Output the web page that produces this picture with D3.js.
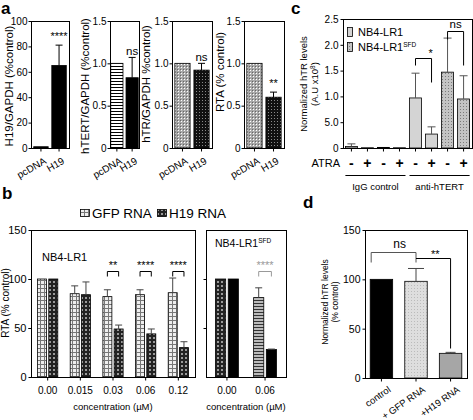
<!DOCTYPE html>
<html><head><meta charset="utf-8">
<script src="https://cdn.jsdelivr.net/npm/d3@7"></script>
<style>body{margin:0;background:#fff}svg text{font-family:"Liberation Sans",Arial,sans-serif;fill:#000}</style>
</head><body><svg id="chart" width="473" height="420"></svg>
<script>
// ===== DATA =====
const aCategories = ["pcDNA", "H19"];
const aH19Values = [1, 65];
const aH19Errors = [0, 16];
const aH19Ticks = [0, 20, 40, 60, 80, 100];
const aTertValues = [1.0, 0.83];
const aTertErrors = [0, 0.24];
const aHtrValues = [1.0, 0.92];
const aHtrErrors = [0, 0.08];
const aRtaValues = [1.0, 0.60];
const aRtaErrors = [0, 0.06];
const aRatioTicks = [0, 0.5, 1.0, 1.5];
const aRatioTickLabels = ["0", "0.5", "1.0", "1.5"];

const cAtra = ["-", "+", "-", "+", "-", "+", "-", "+"];
const cCells = ["NB4-LR1", "NB4-LR1", "NB4-LR1SFD", "NB4-LR1SFD", "NB4-LR1", "NB4-LR1", "NB4-LR1SFD", "NB4-LR1SFD"];
const cGroups = ["IgG control", "anti-hTERT"];
const cValues = [0.03, 0.005, 0.012, 0.005, 0.97, 0.27, 1.47, 0.95];
const cErrors = [0.05, 0, 0, 0, 0.48, 0.14, 0.66, 0.45];
const cTicks = [0, 0.5, 1.0, 1.5, 2.0, 2.5];
const cTickLabels = ["0", "5.0", "1.0", "1.5", "2.0", "2.5"];

const bSeries = ["GFP RNA", "H19 RNA"];
const bConc = ["0.00", "0.015", "0.03", "0.06", "0.12"];
const bGfpValues = [100, 85, 82, 84, 86];
const bGfpErrors = [0, 8, 7, 5, 15];
const bH19Values = [100, 84, 49, 44, 30];
const bH19Errors = [0, 13, 4, 5, 6];
const bSig = ["", "", "**", "****", "****"];
const bSfdConc = ["0.00", "0.06"];
const bSfdGfpValues = [100, 81];
const bSfdGfpErrors = [0, 10];
const bSfdH19Values = [100, 28];
const bSfdH19Errors = [0, 0.5];
const bSfdSig = ["", "****"];
const bTicks = [0, 50, 100, 150];

const dCategories = ["control", "+ GFP RNA", "+H19 RNA"];
const dValues = [100, 98, 25];
const dErrors = [0, 13, 1];
const dTicks = [0, 50, 100, 150];

// ===== HELPERS =====
const svg = d3.select("#chart");
const defs = svg.append("defs");
function pat(id, w, h, bg, rects) {
  const p = defs.append("pattern").attr("id", id).attr("patternUnits", "userSpaceOnUse").attr("width", w).attr("height", h);
  p.append("rect").attr("width", w).attr("height", h).attr("fill", bg);
  rects.forEach(r => p.append("rect").attr("x", r[0]).attr("y", r[1]).attr("width", r[2]).attr("height", r[3]).attr("fill", r[4]));
}
pat("pStripe", 4, 3, "#fff", [[0, 0, 4, 1, "#000"]]);
pat("pDotGray", 3, 3, "#a8a8a8", [[1, 1, 1, 1, "#fff"], [0, 0, 1, 1, "#666"]]);
pat("pDotDark", 3, 3, "#111", [[1, 1, 1, 1, "#8a8a8a"]]);
pat("pCheckLight", 4, 4, "#eee", [[0, 0, 4, 1, "#777"], [0, 0, 1, 4, "#777"]]);
pat("pCheckDark", 4, 4, "#222", [[1, 1, 2, 2, "#9a9a9a"]]);
pat("pHatch", 3, 3, "#bbb", [[0, 0, 3, 1, "#333"]]);
pat("pSfd", 3, 3, "#c4c4c4", [[1, 1, 1, 1, "#7a7a7a"]]);
pat("pDGfp", 3, 3, "#dedede", [[0, 0, 1, 1, "#bbb"]]);

function frame(g, x0, x1, y0, y1) {
  g.append("rect").attr("x", x0 + 0.5).attr("y", y0 + 0.5).attr("width", x1 - x0).attr("height", y1 - y0)
    .attr("fill", "none").attr("stroke", "#000").attr("stroke-width", 1);
}
function yAxis(g, y, x0, ticks, labels, fs, pad) {
  const ax = d3.axisLeft(y).tickValues(ticks).tickSize(3).tickPadding(pad === undefined ? 2 : pad)
    .tickFormat((d, i) => labels ? labels[i] : "");
  const a = g.append("g").attr("transform", `translate(${x0 + 0.5},0)`).call(ax);
  a.select(".domain").remove();
  a.selectAll("text").attr("font-size", fs).attr("font-family", "'Liberation Sans',Arial,sans-serif").attr("fill", "#000");
  a.selectAll("line").attr("stroke", "#000");
  return a;
}
function xTicks(g, x, y0) {
  const a = g.append("g").attr("transform", `translate(0,${y0 + 0.5})`)
    .call(d3.axisBottom(x).tickSize(3).tickFormat(""));
  a.select(".domain").remove();
  a.selectAll("line").attr("stroke", "#000");
}
function errBar(g, cx, y0, y1, cap, color) {
  g.append("line").attr("x1", cx).attr("x2", cx).attr("y1", y0).attr("y2", y1).attr("stroke", color).attr("stroke-width", 1);
  g.append("line").attr("x1", cx - cap / 2).attr("x2", cx + cap / 2).attr("y1", y1).attr("y2", y1).attr("stroke", color).attr("stroke-width", 1);
}
function vText(g, x, y, txt, fs) {
  return g.append("text").attr("transform", `translate(${x},${y}) rotate(-90)`).attr("text-anchor", "middle")
    .attr("font-size", fs).text(txt);
}
function bracket(g, x1, x2, y, d1, d2, color) {
  g.append("path").attr("d", `M${x1},${y + d1}V${y}H${x2}V${y + d2}`).attr("fill", "none").attr("stroke", color).attr("stroke-width", 1);
}

// ===== PANEL LETTERS =====
[["a", 1, 14], ["b", 2, 199], ["c", 291, 14], ["d", 303, 208]].forEach(p =>
  svg.append("text").attr("x", p[1]).attr("y", p[2]).attr("font-size", 17).attr("font-weight", "bold").text(p[0]));

// ===== PANEL A =====
const aSets = [
  { vals: aH19Values, errs: aH19Errors, max: 100, ticks: aH19Ticks, labels: aH19Ticks.map(String), ylab: "H19/GAPDH (%control)", sig: "****" },
  { vals: aTertValues, errs: aTertErrors, max: 1.5, ticks: aRatioTicks, labels: aRatioTickLabels, ylab: "hTERT/GAPDH (%control)", sig: "ns" },
  { vals: aHtrValues, errs: aHtrErrors, max: 1.5, ticks: aRatioTicks, labels: aRatioTickLabels, ylab: "hTR/GAPDH %control)", sig: "ns" },
  { vals: aRtaValues, errs: aRtaErrors, max: 1.5, ticks: aRatioTicks, labels: aRatioTickLabels, ylab: "RTA (% control)", sig: "**" }
];
const aLayout = [
  { l: 31, r: 69, lx: 13, ly: 86, pi: 0.2, po: 0.15, fills: ["#000", "#000"] },
  { l: 110, r: 139, lx: 89, ly: 86, pi: 0.2, po: 0.05, fills: ["url(#pStripe)", "#000"] },
  { l: 172, r: 212, lx: 150, ly: 84, pi: 0.2, po: 0.15, fills: ["url(#pDotGray)", "url(#pDotDark)"] },
  { l: 244, r: 284, lx: 223.5, ly: 72, pi: 0.2, po: 0.15, fills: ["url(#pDotGray)", "url(#pDotDark)"] }
];
const aTop = 21, aBot = 148;
aSets.forEach((s, i) => {
  const L = aLayout[i];
  const g = svg.append("g");
  const x = d3.scaleBand().domain(aCategories).range([L.l, L.r]).paddingInner(L.pi).paddingOuter(L.po);
  const y = d3.scaleLinear().domain([0, s.max]).range([aBot, aTop]);
  g.selectAll("rect.bar").data(aCategories).join("rect").attr("class", "bar")
    .attr("x", d => x(d)).attr("width", x.bandwidth())
    .attr("y", (d, j) => y(s.vals[j])).attr("height", (d, j) => y(0) - y(s.vals[j]))
    .attr("fill", (d, j) => L.fills[j]).attr("stroke", "#000").attr("stroke-width", 0.8);
  aCategories.forEach((d, j) => {
    if (s.errs[j] > 0) errBar(g, x(d) + x.bandwidth() / 2, y(s.vals[j]), y(s.vals[j] + s.errs[j]), 7, "#000");
  });
  frame(g, L.l, L.r, aTop, aBot);
  yAxis(g, y, L.l, s.ticks, s.labels, 10, 1);
  xTicks(g, x, aBot);
  aCategories.forEach(d => g.append("text")
    .attr("transform", `translate(${x(d) + x.bandwidth() / 2 + 6},${aBot + 15}) rotate(-30)`)
    .attr("text-anchor", "end").attr("font-size", 10).text(d));
  vText(g, L.lx, L.ly, s.ylab, 11.5);
  const ey = y(s.vals[1] + s.errs[1]);
  const star = s.sig.startsWith("*");
  g.append("text").attr("x", x(aCategories[1]) + x.bandwidth() / 2).attr("y", star ? ey - 5 : ey - 2)
    .attr("text-anchor", "middle").attr("font-size", star ? 11 : 11.5).text(s.sig);
});

// ===== PANEL C =====
{
  const g = svg.append("g");
  const cl = 343, cr = 472, ct = 19, cb = 148;
  const x = d3.scaleBand().domain(d3.range(cValues.length)).range([cl, cr]).paddingInner(0.25).paddingOuter(0.15);
  const y = d3.scaleLinear().domain([0, 2.5]).range([cb, ct]);
  const fillOf = c => c === "NB4-LR1" ? "#d4d4d4" : "url(#pSfd)";
  g.selectAll("rect.bar").data(cValues).join("rect").attr("class", "bar")
    .attr("x", (d, i) => x(i)).attr("width", x.bandwidth())
    .attr("y", d => y(d)).attr("height", d => y(0) - y(d))
    .attr("fill", (d, i) => fillOf(cCells[i])).attr("stroke", "#000").attr("stroke-width", 0.8);
  cValues.forEach((v, i) => { if (cErrors[i] > 0) errBar(g, x(i) + x.bandwidth() / 2, y(v), y(v + cErrors[i]), 8, "#555"); });
  frame(g, cl, cr, ct, cb);
  yAxis(g, y, cl, cTicks, cTickLabels, 10);
  xTicks(g, x, cb);
  g.append("text").attr("x", 340).attr("y", 167).attr("text-anchor", "end").attr("font-size", 11).text("ATRA");
  cAtra.forEach((s, i) => g.append("text").attr("x", x(i) + x.bandwidth() / 2).attr("y", 168)
    .attr("text-anchor", "middle").attr("font-size", 14).attr("font-weight", "bold").text(s));
  cGroups.forEach((gname, k) => {
    const i0 = k * 4, i1 = k * 4 + 3;
    const x0 = x(i0), x1 = x(i1) + x.bandwidth();
    g.append("line").attr("x1", x0).attr("x2", x1).attr("y1", 175.5).attr("y2", 175.5).attr("stroke", "#000");
    g.append("text").attr("x", (x0 + x1) / 2).attr("y", 190).attr("text-anchor", "middle").attr("font-size", 9.5).text(gname);
  });
  const legendItems = ["NB4-LR1", "NB4-LR1SFD"];
  legendItems.forEach((c, k) => {
    g.append("rect").attr("x", 347.5).attr("y", 27.5 + k * 15).attr("width", 5).attr("height", 9)
      .attr("fill", fillOf(c)).attr("stroke", "#000").attr("stroke-width", 0.8);
    const t = g.append("text").attr("x", 358).attr("y", 36 + k * 15).attr("font-size", 11).text("NB4-LR1");
    if (c.endsWith("SFD")) t.append("tspan").attr("dy", -4).attr("font-size", 6.5).text("SFD");
  });
  const c4 = x(4) + x.bandwidth() / 2, c5 = x(5) + x.bandwidth() / 2, c6 = x(6) + x.bandwidth() / 2, c7 = x(7) + x.bandwidth() / 2;
  bracket(g, c4, c5, 58.5, 7, 24, "#000");
  g.append("text").attr("x", c5 - 1).attr("y", 57).attr("text-anchor", "middle").attr("font-size", 11).text("*");
  bracket(g, c6, c7, 31.5, 8, 34, "#000");
  g.append("text").attr("x", (c6 + c7) / 2).attr("y", 28).attr("text-anchor", "middle").attr("font-size", 11.5).text("ns");
  g.append("text").attr("transform", "translate(307,84) rotate(-90)").attr("text-anchor", "middle").attr("font-size", 9.5).text("Normalized hTR levels");
  const t2 = g.append("text").attr("transform", "translate(318,84) rotate(-90)").attr("text-anchor", "middle").attr("font-size", 9.5).text("(A.U x10");
  t2.append("tspan").attr("dy", -3).attr("font-size", 6.5).text("8");
  t2.append("tspan").attr("dy", 3).text(")");
}

// ===== PANEL B =====
{
  const g = svg.append("g");
  const bt = 230, bb = 377;
  const y = d3.scaleLinear().domain([0, 150]).range([bb, bt]);
  const legFills = ["url(#pCheckLight)", "url(#pCheckDark)"];
  const legX = [80, 157];
  bSeries.forEach((s, k) => {
    g.append("rect").attr("x", legX[k] + 0.5).attr("y", 209.5).attr("width", 9).attr("height", 7)
      .attr("fill", legFills[k]).attr("stroke", "#000").attr("stroke-width", 0.8);
    g.append("text").attr("x", legX[k] + 12).attr("y", 218).attr("font-size", 13.5).text(s);
  });
  function subplot(l, r, conc, gv, ge, hv, he, sig, gfpFills, h19Fills, pIn, pOut, sigColor) {
    const x = d3.scaleBand().domain(conc).range([l, r]).paddingInner(pIn).paddingOuter(pOut);
    const xi = d3.scaleBand().domain(bSeries).range([0, x.bandwidth()]).paddingInner(0.2);
    const vals = [gv, hv], errs = [ge, he], fills = [gfpFills, h19Fills];
    bSeries.forEach((s, k) => {
      g.selectAll(null).data(conc).join("rect")
        .attr("x", d => x(d) + xi(s)).attr("width", xi.bandwidth())
        .attr("y", (d, i) => y(vals[k][i])).attr("height", (d, i) => y(0) - y(vals[k][i]))
        .attr("fill", (d, i) => fills[k][i]).attr("stroke", "#000").attr("stroke-width", 0.8);
      conc.forEach((d, i) => {
        if (errs[k][i] > 0) errBar(g, x(d) + xi(s) + xi.bandwidth() / 2, y(vals[k][i]), y(vals[k][i] + errs[k][i]), 7, "#444");
      });
    });
    conc.forEach((d, i) => {
      if (!sig[i]) return;
      const x1 = x(d) + xi(bSeries[0]) + xi.bandwidth() / 2, x2 = x(d) + xi(bSeries[1]) + xi.bandwidth() / 2;
      bracket(g, x1, x2, 271.5, 5, 5, sigColor);
      g.append("text").attr("x", (x1 + x2) / 2).attr("y", 269).attr("text-anchor", "middle").attr("font-size", 11)
        .style("fill", sigColor).text(sig[i]);
    });
    frame(g, l, r, bt, bb);
    yAxis(g, y, l, bTicks.slice(1, 3), null, 10);
    xTicks(g, x, bb);
    conc.forEach(d => g.append("text").attr("x", x(d) + x.bandwidth() / 2).attr("y", 394)
      .attr("text-anchor", "middle").attr("font-size", 10).text(d));
    g.append("text").attr("x", (l + r) / 2).attr("y", 410).attr("text-anchor", "middle").attr("font-size", 9.5).text("concentration (µM)");
    return x;
  }
  subplot(31, 195, bConc, bGfpValues, bGfpErrors, bH19Values, bH19Errors, bSig,
    bConc.map(() => "url(#pCheckLight)"), bConc.map(() => "url(#pCheckDark)"), 0.38, 0.2, "#000");
  subplot(206, 286, bSfdConc, bSfdGfpValues, bSfdGfpErrors, bSfdH19Values, bSfdH19Errors, bSfdSig,
    ["url(#pCheckDark)", "url(#pHatch)"], ["#000", "#000"], 0.4, 0.25, "#999");
  yAxis(g, y, 31, bTicks, bTicks.map(String), 11);
  g.append("text").attr("x", 42).attr("y", 261).attr("font-size", 11).text("NB4-LR1");
  const t = g.append("text").attr("x", 215).attr("y", 247).attr("font-size", 10.5).text("NB4-LR1");
  t.append("tspan").attr("dy", -4).attr("font-size", 6.5).text("SFD");
  vText(g, 9, 303, "RTA (% control)", 10);
}

// ===== PANEL D =====
{
  const g = svg.append("g");
  const dl = 365, dr = 467, dt = 230, db = 378;
  const x = d3.scaleBand().domain(dCategories).range([dl, dr]).paddingInner(0.35).paddingOuter(0.15);
  const y = d3.scaleLinear().domain([0, 150]).range([db, dt]);
  const fills = ["#000", "url(#pDGfp)", "#a6a6a6"];
  g.selectAll("rect.bar").data(dCategories).join("rect").attr("class", "bar")
    .attr("x", d => x(d)).attr("width", x.bandwidth())
    .attr("y", (d, i) => y(dValues[i])).attr("height", (d, i) => y(0) - y(dValues[i]))
    .attr("fill", (d, i) => fills[i]).attr("stroke", "#000").attr("stroke-width", 0.8);
  const cx = d => x(d) + x.bandwidth() / 2;
  dCategories.forEach((d, i) => { if (dErrors[i] > 0) errBar(g, cx(d), y(dValues[i]), y(dValues[i] + dErrors[i]), i === 1 ? 16 : 10, "#444"); });
  frame(g, dl, dr, dt, db);
  yAxis(g, y, dl, dTicks, dTicks.map(String), 10.5);
  xTicks(g, x, db);
  dCategories.forEach(d => g.append("text")
    .attr("transform", `translate(${cx(d) + 10},${db + 13}) rotate(-35)`)
    .attr("text-anchor", "end").attr("font-size", 9.5).text(d));
  const x0 = x(dCategories[0]) + 1, x1 = cx(dCategories[1]), x2 = cx(dCategories[2]);
  bracket(g, x0, x1, 252.5, 10, 10, "#555");
  g.append("text").attr("x", (x0 + x1) / 2 + 6).attr("y", 248).attr("text-anchor", "middle").attr("font-size", 12).text("ns");
  bracket(g, x1, x2, 258.5, 0, 90, "#000");
  g.append("text").attr("x", (x1 + x2) / 2 + 2).attr("y", 258).attr("text-anchor", "middle").attr("font-size", 11).text("**");
  g.append("text").attr("transform", "translate(328,302) rotate(-90)").attr("text-anchor", "middle").attr("font-size", 8.5).text("Normalized hTR levels");
  g.append("text").attr("transform", "translate(338,302) rotate(-90)").attr("text-anchor", "middle").attr("font-size", 8.5).text("(% control)");
}
</script></body></html>
